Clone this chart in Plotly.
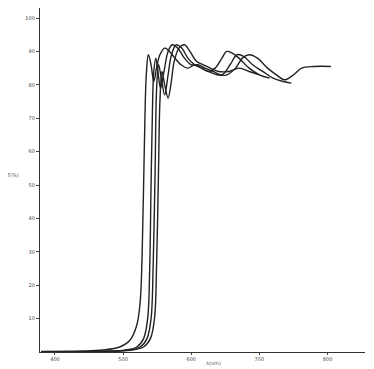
import plotly.graph_objects as go

# transmission spectra
wl_a = [380, 440, 470, 495, 510, 520, 525, 528, 531, 534, 537, 541, 545, 549, 554, 561,
        568, 576, 585, 595, 605, 615, 625, 635, 645, 652, 660, 670, 685, 700, 715]
t_a = [0.2, 0.3, 0.6, 1.5, 3.5, 8, 15, 30, 60, 83, 89, 86, 81, 85, 89, 91,
       90, 88, 86, 85, 86, 85, 84, 85, 88, 90, 89.5, 88, 85, 83, 82]

wl_b = [380, 460, 500, 520, 530, 536, 539, 541, 543, 545, 548, 551, 555, 560, 566, 572,
        580, 590, 600, 610, 620, 632, 645, 657, 667, 677, 690, 705, 720, 735, 747]
t_b = [0.1, 0.2, 0.5, 1.5, 4, 10, 25, 50, 72, 84, 88, 84, 79, 84, 90, 92,
       91, 88, 86, 86, 85, 84, 83, 86, 89, 88.5, 86, 84, 82, 81, 80.5]

wl_c = [380, 470, 505, 525, 535, 541, 544, 547, 549, 552, 556, 561, 566, 571, 578, 586,
        595, 605, 615, 625, 638, 652, 665, 675, 685, 697, 712, 725, 737, 750, 762, 780, 805]
t_c = [0.1, 0.2, 0.5, 1.5, 4, 10, 25, 55, 78, 86, 82, 77, 83, 89, 92, 91,
       88, 86, 85, 84, 83, 83, 85, 88, 89, 88, 85, 83, 81.5, 83, 85, 85.5, 85.5]

wl_d = [380, 475, 510, 530, 540, 546, 549, 552, 554, 557, 561, 566, 570, 575, 582, 590,
        598, 608, 618, 628, 640, 655, 670, 685, 700]
t_d = [0.1, 0.2, 0.5, 1.5, 4, 10, 25, 55, 75, 84, 80, 76, 80, 87, 91, 92,
       90, 87, 86, 85, 84, 84, 85, 84, 83]

x_ticks = [400, 500, 600, 700, 800]
y_ticks = [10, 20, 30, 40, 50, 60, 70, 80, 90, 100]

fig = go.Figure()
for wl, t in [(wl_a, t_a), (wl_b, t_b), (wl_c, t_c), (wl_d, t_d)]:
    fig.add_trace(go.Scatter(x=wl, y=t, mode="lines", line_shape="spline",
                             line=dict(color="#222", width=1.4), showlegend=False))

# the page body adds an 8px offset, so the figure is 8px smaller
fig.update_layout(
    width=366, height=361,
    margin=dict(l=32, r=9, t=0, b=17),
    paper_bgcolor="white", plot_bgcolor="white",
    font=dict(family="DejaVu Sans", size=5, color="#444"),
    xaxis=dict(range=[378, 855], tickvals=x_ticks, ticks="outside", ticklen=2,
               showline=True, linecolor="#333", linewidth=1.2, showgrid=False,
               zeroline=False, tickfont=dict(size=5)),
    yaxis=dict(range=[0, 103], tickvals=y_ticks, ticks="outside", ticklen=3,
               showline=True, linecolor="#333", linewidth=1.2, showgrid=False,
               zeroline=False, tickfont=dict(size=5)),
)
fig.add_annotation(text="T(%)", x=-0.086, y=0.514, xref="paper", yref="paper",
                   xanchor="center", yanchor="middle", showarrow=False,
                   font=dict(size=5, color="#555"))
fig.add_annotation(text="λ(nm)", x=0.535, y=-0.0465,
                   xref="paper", yref="paper", xanchor="center", yanchor="bottom",
                   showarrow=False, font=dict(size=5, color="#555"))

fig.write_html("out.html")
